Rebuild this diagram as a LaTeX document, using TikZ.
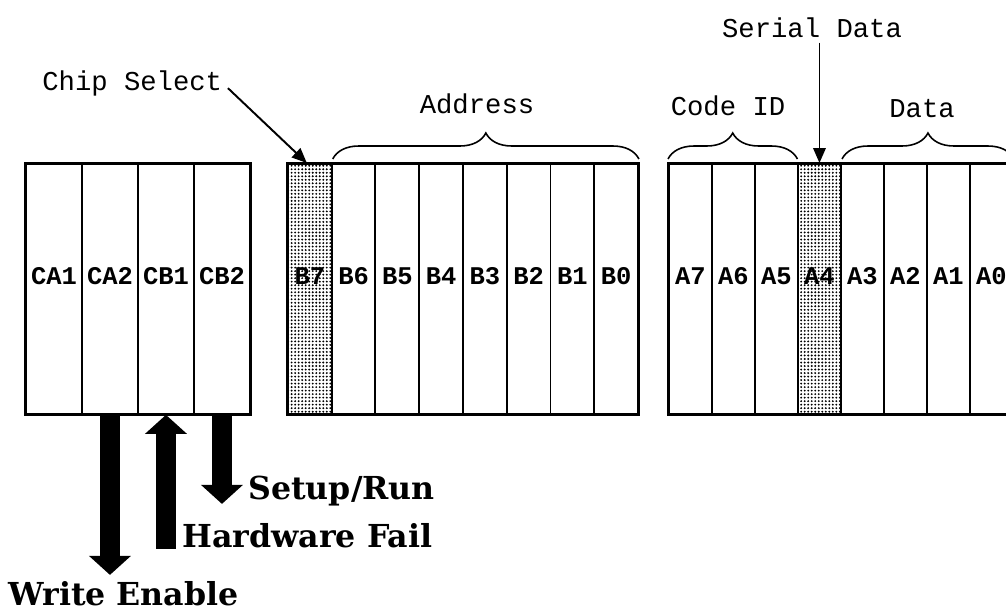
\documentclass[tikz,border=0pt]{standalone}
\usepackage{fontspec}
\setmainfont{Liberation Mono}
\newfontfamily\boldserif{DejaVu Serif}
\usepackage{tikz}
\usetikzlibrary{arrows.meta, positioning, decorations.pathreplacing, patterns.meta}

\begin{document}
\begin{tikzpicture}[
    x=0.02cm, y=-0.02cm,
    cell/.style={
        rectangle, draw, line width=1.1pt, inner sep=0pt,
        minimum height=5cm, anchor=north west,
        label={[font=\fontsize{14.5}{16}\selectfont\bfseries, yshift=0.25cm]center:#1}
    },
    wide/.style={minimum width=1.12cm},
    narrow/.style={minimum width=0.875cm},
    slim/.style={minimum width=0.86cm},
    stipple/.style={pattern={Dots[distance=2pt, radius=0.6pt]}},
    frame/.style={draw, line width=1.6pt},
    tag/.style={font=\fontsize{15.5}{18}\selectfont, inner sep=0pt},
    signal/.style={font=\boldserif\bfseries\fontsize{18}{20}\selectfont, inner sep=0pt, anchor=base west},
    brace/.style={decorate, decoration={brace, amplitude=0.52cm}, line width=0.9pt},
    pointer/.style={-{Triangle[length=0.3cm, width=0.25cm]}, line width=1.1pt},
    fat/.style={line width=0.4cm, -{Triangle[length=0.38cm, width=0.84cm, line width=0pt]}}
]
    \useasboundingbox [fill=white] (0,0) rectangle (1006,612);

    \foreach \n/\t [count=\i from 0] in {ca1/CA1, ca2/CA2, cb1/CB1, cb2/CB2}
        \node [cell=\t, wide] (\n) at ({25+\i*56}, 163) {};

    \node [cell=B7, narrow, stipple] (b7) at (287, 163) {};
    \foreach \n [count=\i] in {6,...,0}
        \node [cell=B\n, narrow] (b\n) at ({287+\i*43.75}, 163) {};

    \foreach \n [count=\i from 0] in {7,6,5}
        \node [cell=A\n, slim] (a\n) at ({668+\i*43}, 163) {};
    \node [cell=A4, slim, stipple] (a4) at (797, 163) {};
    \foreach \n [count=\i from 4] in {3,...,0}
        \node [cell=A\n, slim] (a\n) at ({668+\i*43}, 163) {};

    \draw [frame] (ca1.north west) rectangle (cb2.south east);
    \draw [frame] (b7.north west) rectangle (b0.south east);
    \draw [frame] (a7.north west) rectangle (a0.south east);

    \node [tag, anchor=base west] (chipsel) at (42, 90)  {Chip Select};
    \node [tag, anchor=base]      (address) at (477, 113) {Address};
    \node [tag, anchor=base]      (codeid)  at (728, 115) {Code ID};
    \node [tag, anchor=base]      (data)    at (922, 117) {Data};
    \node [tag, anchor=base]      (serial)  at (812, 37)  {Serial Data};

    \draw [brace] ([xshift=0.04cm, yshift=0.08cm]b6.north west) -- ([yshift=0.08cm]b0.north east);
    \draw [brace] ([yshift=0.08cm]a7.north west) -- ([xshift=-0.03cm, yshift=0.08cm]a5.north east);
    \draw [brace] ([xshift=0.04cm, yshift=0.08cm]a3.north west) -- ([yshift=0.08cm]a0.north east);

    \draw [pointer, shorten <=0.15cm] (chipsel.east) -- ([xshift=-0.06cm]b7.north);
    \draw [pointer, shorten <=0.1cm] (serial.south -| a4.north) -- (a4.north);

    \coordinate (wen) at ([yshift=-3.2cm]ca2.south);
    \coordinate (hwf) at ([yshift=-2.68cm]cb1.south);
    \coordinate (sur) at ([yshift=-1.78cm]cb2.south);
    \draw [fat] (ca2.south) -- (wen);
    \draw [fat] (hwf) -- (cb1.south);
    \draw [fat] (cb2.south) -- (sur);

    \node [signal] (setup)   at (248, 499) {Setup/Run};
    \node [signal] (hwfail)  at (182, 547) {Hardware Fail};
    \node [signal] (wenable) at (8, 605)   {Write Enable};
\end{tikzpicture}
\end{document}
